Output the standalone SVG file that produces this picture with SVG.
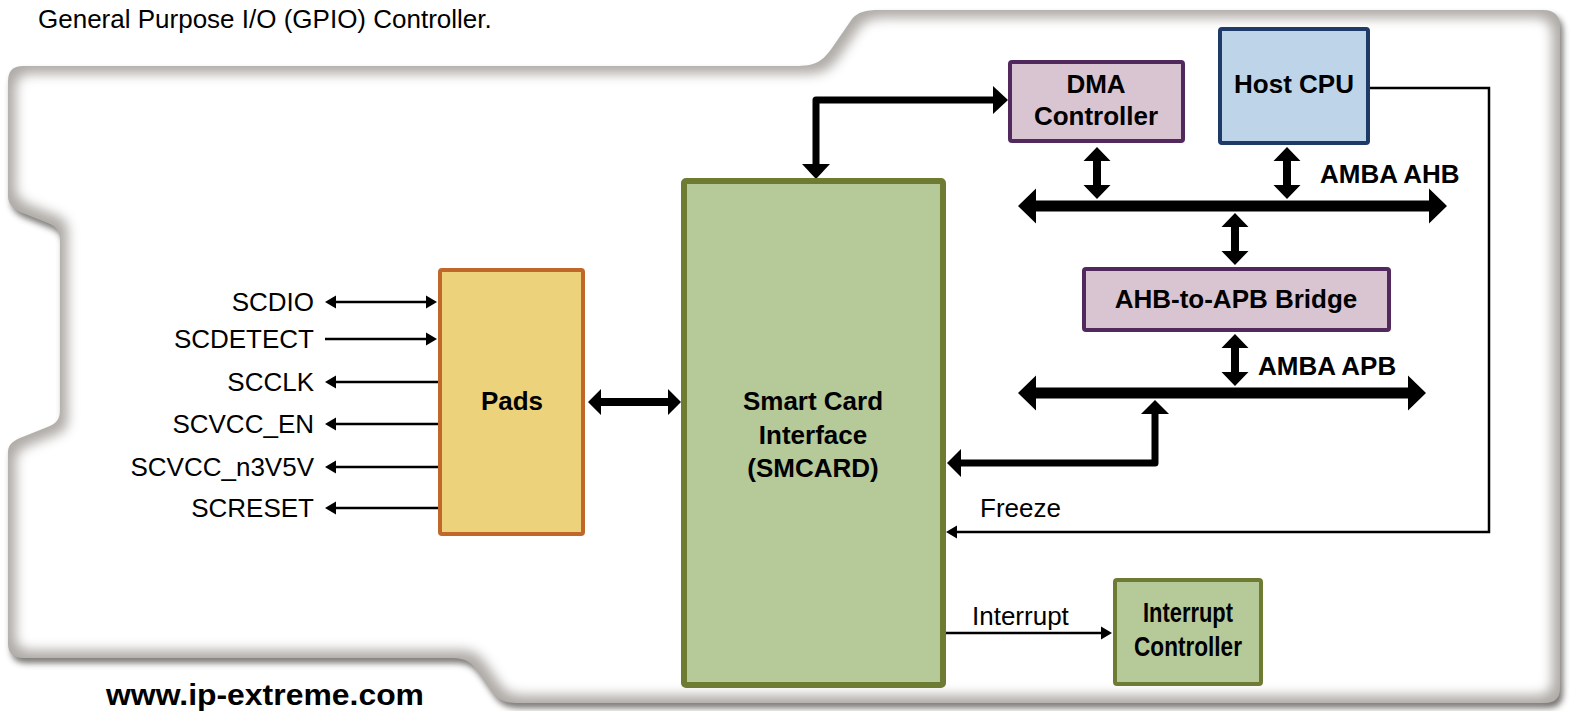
<svg xmlns="http://www.w3.org/2000/svg" width="1572" height="711" viewBox="0 0 1572 711">
<defs>
<style>
text{font-family:"Liberation Sans",Arial,sans-serif;fill:#000;}
.lbl{font-size:26px;}
.b{font-size:26px;font-weight:bold;}
.c{text-anchor:middle;}
.r{text-anchor:end;}
.thin{fill:none;stroke:#000;stroke-width:2.5;}
.thick{fill:none;stroke:#000;stroke-width:7;stroke-linejoin:round;}
.ah{fill:#000;stroke:none;}
.green{fill:#b6c999;stroke:#6e7b33;}
.mauve{fill:#d9c4d1;stroke:#51295c;stroke-width:4;}
</style>
<path id="panelPath" d="M23,66 H795 C815,66 822,62 832,48 L852,19 C858,12 865,10 880,10 H1543 Q1560,10 1560,27 V688 Q1560,703 1545,703 H516 C502,703 496,698 490,689 L479,673 C472,663 466,658 452,658 H23 Q8,658 8,643 V452 C8,444 14,440 25,436 L45,428 C56,424 60,420 60,410 V240 C60,230 56,226 45,222 L25,214 C14,210 8,204 8,196 V81 Q8,66 23,66 Z"/>
<filter id="shadow" filterUnits="userSpaceOnUse" x="-20" y="-20" width="1612" height="751">
<feGaussianBlur stdDeviation="3"/>
</filter>
<filter id="inner" filterUnits="userSpaceOnUse" x="-20" y="-20" width="1612" height="751">
<feMorphology operator="erode" radius="8"/>
<feGaussianBlur stdDeviation="6"/>
</filter>
</defs>
<rect width="1572" height="711" fill="#fff"/>
<g id="panel">
<use href="#panelPath" fill="#55514d" opacity="0.8" transform="translate(3,5)" filter="url(#shadow)"/>
<use href="#panelPath" fill="#b0aca8"/>
<use href="#panelPath" fill="#fff" filter="url(#inner)"/>
</g>
<g id="title"><text class="lbl" x="38" y="28">General Purpose I/O (GPIO) Controller.</text></g>
<g id="footer"><text x="265" y="705" text-anchor="middle" font-size="30" font-weight="bold" textLength="318" lengthAdjust="spacingAndGlyphs">www.ip-extreme.com</text></g>

<g id="connectors">
<line class="thin" x1="334" y1="302" x2="428" y2="302"/>
<polygon class="ah" points="325,302 336,295.5 336,308.5"/>
<polygon class="ah" points="437,302 426,295.5 426,308.5"/>
<line class="thin" x1="325" y1="339" x2="428" y2="339"/>
<polygon class="ah" points="437,339 426,332.5 426,345.5"/>
<line class="thin" x1="334" y1="382" x2="439" y2="382"/>
<polygon class="ah" points="325,382 336,375.5 336,388.5"/>
<line class="thin" x1="334" y1="424" x2="439" y2="424"/>
<polygon class="ah" points="325,424 336,417.5 336,430.5"/>
<line class="thin" x1="334" y1="467" x2="439" y2="467"/>
<polygon class="ah" points="325,467 336,460.5 336,473.5"/>
<line class="thin" x1="334" y1="508" x2="439" y2="508"/>
<polygon class="ah" points="325,508 336,501.5 336,514.5"/>
<polygon class="ah" points="588,402 601,389 601,398 668,398 668,389 681,402 668,415 668,406 601,406 601,415"/>
<path class="thick" d="M816,166 V100 H995"/>
<polygon class="ah" points="816,179 802,164 830,164"/>
<polygon class="ah" points="1008,100 993,86 993,114"/>
<polygon class="ah" points="1018,206 1036,188.5 1036,200.5 1429,200.5 1429,188.5 1447,206 1429,223.5 1429,211.5 1036,211.5 1036,223.5"/>
<polygon class="ah" points="1018,393 1036,375.5 1036,387.5 1408,387.5 1408,375.5 1426,393 1408,410.5 1408,398.5 1036,398.5 1036,410.5"/>
<polygon class="ah" points="1097,147 1110.5,161 1101,161 1101,185 1110.5,185 1097,199 1083.5,185 1093,185 1093,161 1083.5,161"/>
<polygon class="ah" points="1287,147 1300.5,161 1291,161 1291,185 1300.5,185 1287,199 1273.5,185 1283,185 1283,161 1273.5,161"/>
<polygon class="ah" points="1235,213 1248.5,227 1239,227 1239,251 1248.5,251 1235,265 1221.5,251 1231,251 1231,227 1221.5,227"/>
<polygon class="ah" points="1235,334 1248.5,348 1239,348 1239,372 1248.5,372 1235,386 1221.5,372 1231,372 1231,348 1221.5,348"/>
<path class="thick" d="M1155,413 V463 H960"/>
<polygon class="ah" points="1155,400 1141,414 1169,414"/>
<polygon class="ah" points="947,463 961,449 961,477"/>
<polyline class="thin" points="1370,88 1489,88 1489,532 955,532"/>
<polygon class="ah" points="946,532 957,525.5 957,538.5"/>
<line class="thin" x1="946" y1="633" x2="1103" y2="633"/>
<polygon class="ah" points="1112,633 1101,626.5 1101,639.5"/>
</g>

<g id="labels">
<text class="lbl r" x="314" y="311">SCDIO</text>
<text class="lbl r" x="314" y="348">SCDETECT</text>
<text class="lbl r" x="314" y="391">SCCLK</text>
<text class="lbl r" x="314" y="433">SCVCC_EN</text>
<text class="lbl r" x="314" y="476">SCVCC_n3V5V</text>
<text class="lbl r" x="314" y="517">SCRESET</text>
<text class="b" x="1320" y="183">AMBA AHB</text>
<text class="b" x="1258" y="375">AMBA APB</text>
<text class="lbl" x="980" y="517">Freeze</text>
<text class="lbl" x="972" y="625">Interrupt</text>
</g>

<g id="pads">
<rect x="440" y="270" width="143" height="264" rx="2" fill="#ecd27a" stroke="#c0682b" stroke-width="4"/>
<text class="b c" x="512" y="410">Pads</text>
</g>
<g id="smartcard">
<rect x="684" y="181" width="259" height="504" rx="2" class="green" stroke-width="6"/>
<text class="b c" x="813" y="410">Smart Card</text>
<text class="b c" x="813" y="444">Interface</text>
<text class="b c" x="813" y="477">(SMCARD)</text>
</g>
<g id="dma">
<rect x="1010" y="62" width="173" height="79" rx="2" class="mauve"/>
<text class="b c" x="1096" y="93">DMA</text>
<text class="b c" x="1096" y="125">Controller</text>
</g>
<g id="hostcpu">
<rect x="1220" y="29" width="148" height="114" rx="2" fill="#bed5e9" stroke="#1e3a66" stroke-width="4"/>
<text class="b c" x="1294" y="93">Host CPU</text>
</g>
<g id="bridge">
<rect x="1084" y="269" width="305" height="61" rx="2" class="mauve"/>
<text class="b c" x="1236" y="308">AHB-to-APB Bridge</text>
</g>
<g id="intctrl">
<rect x="1115" y="580" width="146" height="104" rx="2" class="green" stroke-width="4"/>
<text x="1188" y="622" text-anchor="middle" font-size="27" font-weight="bold" textLength="90" lengthAdjust="spacingAndGlyphs">Interrupt</text>
<text x="1188" y="656" text-anchor="middle" font-size="27" font-weight="bold" textLength="108" lengthAdjust="spacingAndGlyphs">Controller</text>
</g>
</svg>
